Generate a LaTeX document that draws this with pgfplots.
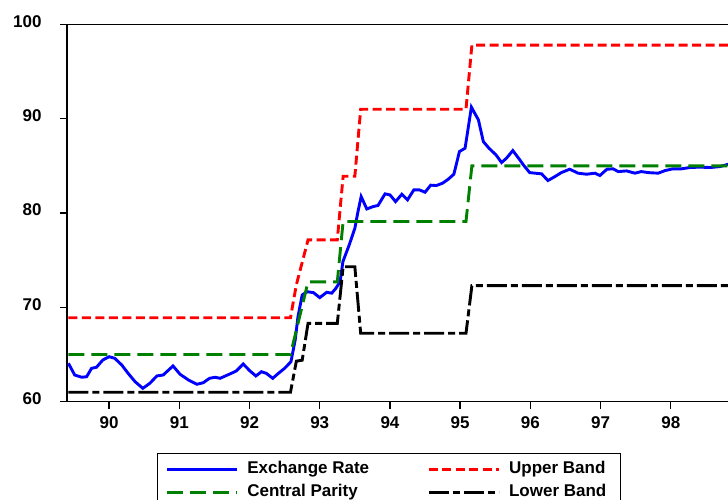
\documentclass[border=0pt]{standalone}
\usepackage{fontspec}
\setmainfont{Liberation Sans}
\usepackage{pgfplots}
\pgfplotsset{compat=1.18}
\definecolor{exblue}{RGB}{0,0,255}
\definecolor{upred}{RGB}{255,0,0}
\definecolor{cgreen}{RGB}{0,128,0}
\begin{document}
\begin{tikzpicture}
\begin{scope}
\clip (0pt,0pt) rectangle (728pt,499pt);
\begin{axis}[
  at={(67pt,97.3pt)}, anchor=south west,
  scale only axis, width=674pt, height=377.4pt,
  xmin=89.4, xmax=99, ymin=60, ymax=100,
  xtick={90,91,...,98}, ytick={60,70,80,90,100},
  xtick pos=bottom, ytick pos=left,
  tick align=outside, major tick length=7pt,
  axis line style={line width=1.4pt},
  every tick/.style={black, line width=1.4pt},
  /pgf/number format/assume math mode=true,
  ticklabel style={font=\fontsize{17}{20}\selectfont\bfseries},
  xticklabel style={yshift=-4pt},
  yticklabel style={yshift=3pt, xshift=-15pt},
  legend columns=2,
  legend image code/.code={\draw[#1] (0pt,0pt) -- (70pt,0pt);},
  legend style={at={(0.1331,-0.1359)}, anchor=north west, draw=black, line width=1.4pt,
    fill=white, inner xsep=8pt, inner ysep=7.8pt,
    nodes={inner sep=0pt, text height=12.5pt, text depth=3.5pt, font=\fontsize{17}{20}\selectfont\bfseries},
    cells={anchor=west}, row sep=6.7pt,
    /tikz/every odd column/.style={column sep=9pt},
    /tikz/every even column/.style={column sep=58pt}},
]
\addplot[exblue, line width=2.9pt] coordinates {
(89.42,64.07)(89.51,62.83)(89.61,62.59)(89.68,62.65)(89.75,63.54)(89.82,63.65)
(89.91,64.42)(90.00,64.77)(90.08,64.60)(90.18,63.89)(90.27,63.01)(90.37,62.12)
(90.48,61.42)(90.58,61.95)(90.68,62.73)(90.77,62.83)(90.91,63.79)(91.01,62.91)
(91.13,62.30)(91.25,61.85)(91.34,62.01)(91.43,62.48)(91.51,62.59)(91.58,62.48)
(91.72,62.94)(91.81,63.25)(91.91,64.00)(92.00,63.30)(92.09,62.73)(92.17,63.18)
(92.24,63.00)(92.33,62.48)(92.41,63.00)(92.50,63.54)(92.59,64.24)(92.65,66.54)
(92.69,69.01)(92.75,71.31)(92.82,71.66)(92.91,71.56)(93.00,71.03)(93.10,71.60)
(93.17,71.50)(93.23,72.02)(93.29,72.73)(93.33,74.85)(93.42,76.62)(93.50,78.38)
(93.54,79.98)(93.59,81.74)(93.67,80.43)(93.76,80.68)(93.83,80.80)(93.93,82.03)
(94.00,81.92)(94.08,81.21)(94.17,81.99)(94.25,81.39)(94.34,82.45)(94.42,82.45)
(94.50,82.20)(94.58,82.95)(94.66,82.91)(94.75,83.16)(94.83,83.58)(94.91,84.11)
(94.99,86.51)(95.07,86.87)(95.16,91.22)(95.26,89.87)(95.33,87.57)(95.41,86.87)
(95.51,86.16)(95.59,85.35)(95.66,85.81)(95.75,86.62)(95.85,85.63)(95.90,85.10)
(95.99,84.28)(96.16,84.15)(96.25,83.44)(96.35,83.86)(96.44,84.28)(96.56,84.64)
(96.68,84.22)(96.80,84.11)(96.92,84.22)(96.99,83.97)(97.09,84.64)(97.18,84.68)
(97.25,84.39)(97.37,84.46)(97.49,84.22)(97.58,84.39)(97.68,84.28)(97.82,84.22)
(97.92,84.50)(98.03,84.68)(98.15,84.68)(98.27,84.82)(98.41,84.86)(98.56,84.82)
(98.70,84.92)(98.82,85.17)(98.95,85.10)
};
\addlegendentry{Exchange Rate}
\addplot[upred, line width=2.9pt, dash pattern=on 9pt off 4.5pt] coordinates {
(89.42,68.9)(92.583,68.9)(92.667,72.4)(92.833,77.15)(93.25,77.15)(93.333,83.9)
(93.5,83.9)(93.583,91.0)(95.083,91.0)(95.167,97.8)(99,97.8)
};
\addlegendentry{Upper Band\rule{7pt}{0pt}}
\addplot[cgreen, line width=2.9pt, dash pattern=on 16pt off 7pt] coordinates {
(89.42,65.0)(92.583,65.0)(92.833,72.7)(93.25,72.7)(93.333,79.1)
(95.083,79.1)(95.167,85.0)(99,85.0)
};
\addlegendentry{Central Parity}
\addplot[black, line width=2.9pt, dash pattern=on 20pt off 4pt on 7pt off 4pt] coordinates {
(89.42,61.0)(92.583,61.0)(92.667,64.3)(92.75,64.4)(92.833,68.3)(93.25,68.3)
(93.333,74.3)(93.5,74.3)(93.583,67.25)(95.083,67.25)(95.167,72.3)(99,72.3)
};
\addlegendentry{Lower Band}
\end{axis}
\end{scope}
\pgfresetboundingbox
\path[use as bounding box] (0pt,0pt) rectangle (728pt,499pt);
\end{tikzpicture}
\end{document}
